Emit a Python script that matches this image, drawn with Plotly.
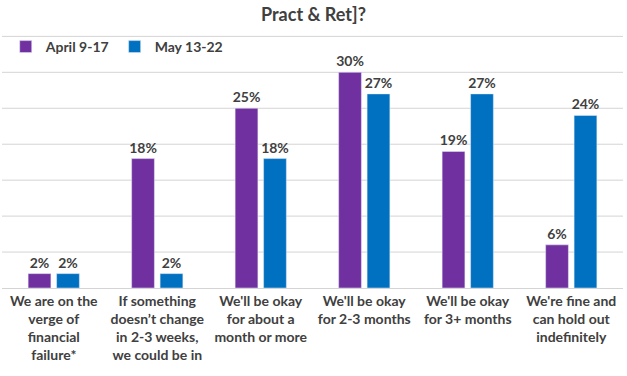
import plotly.graph_objects as go

categories = [
    "We are on the<br>verge of<br>financial<br>failure*",
    "If something<br>doesn’t change<br>in 2-3 weeks,<br>we could be in",
    "We'll be okay<br>for about a<br>month or more",
    "We'll be okay<br>for 2-3 months",
    "We'll be okay<br>for 3+ months",
    "We're fine and<br>can hold out<br>indefinitely",
]
april = [2, 18, 25, 30, 19, 6]
may = [2, 2, 18, 27, 27, 24]
series_names = ["April 9-17", "May 13-22"]
grid_values = [5, 10, 15, 20, 25, 30, 35]
colors = ["#7030A0", "#0070C0"]

font_family = "Lato, 'Open Sans', sans-serif"
text_color = "#404040"
grid_color = "#d4d4d4"

fig = go.Figure()
for name, vals, col in zip(series_names, [april, may], colors):
    fig.add_trace(go.Bar(
        x=categories, y=vals, name=name, marker_color=col,
        text=[f"{v}%" for v in vals], textposition="outside",
        textfont=dict(family=font_family, size=14, color=text_color, weight="bold"),
        cliponaxis=False, constraintext="none",
    ))

for g in grid_values:
    fig.add_hline(y=g, line_color=grid_color, line_width=1, layer="below")

top_px = 22
bottom_px = 288
fig.update_layout(
    width=627, height=376,
    margin=dict(l=2, r=4, t=top_px, b=376 - bottom_px, autoexpand=False),
    paper_bgcolor="white", plot_bgcolor="white",
    barmode="group", bargap=0.45, bargroupgap=0.2,
    title=dict(text="<b>Pract & Ret]?</b>", x=0.5, xanchor="center",
               y=1 - 15 / 376, yanchor="middle",
               font=dict(family=font_family, size=18, color=text_color)),
    legend=dict(orientation="h", x=0.006, y=(bottom_px - 47) / (bottom_px - top_px),
                xref="paper", yref="paper", yanchor="middle", xanchor="left",
                font=dict(family=font_family, size=14, color=text_color, weight="bold"),
                bgcolor="rgba(255,255,255,0)", traceorder="normal"),
    showlegend=True,
)
fig.update_yaxes(range=[0, 37], showticklabels=False, showgrid=False, zeroline=False)
fig.update_xaxes(showline=True, linecolor=grid_color, ticks="", automargin=False,
                 tickfont=dict(family=font_family, size=14, color=text_color, weight="bold"),
                 tickangle=0)

fig.write_html("out.html", config={"displayModeBar": False},
               post_script="document.body.style.margin='0';")
